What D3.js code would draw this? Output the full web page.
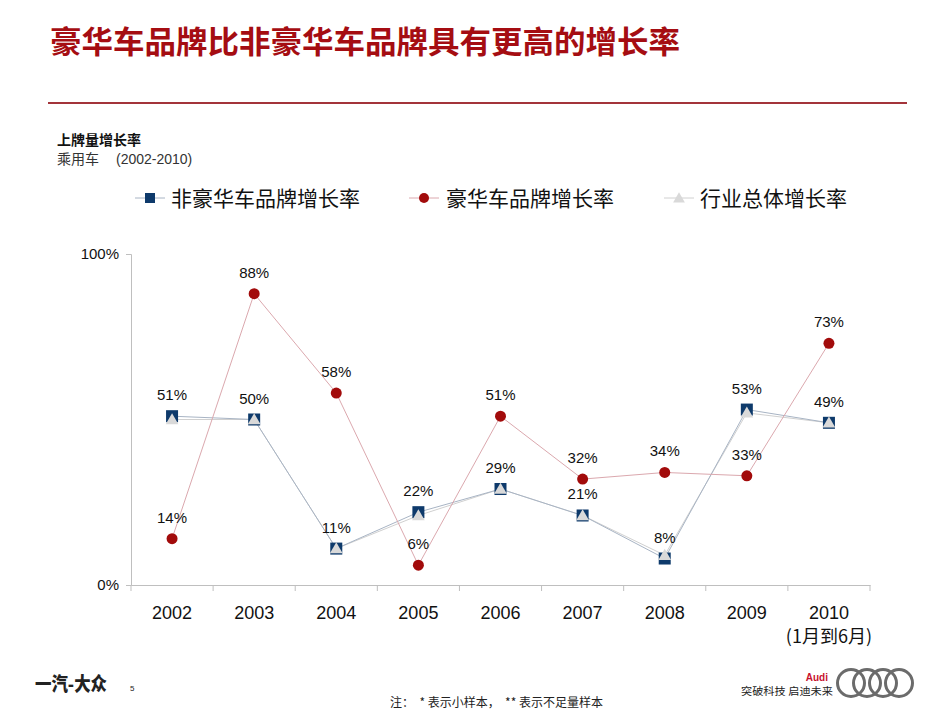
<!DOCTYPE html>
<html><head><meta charset="utf-8">
<script src="https://cdn.jsdelivr.net/npm/d3@7"></script>
<style>
html,body{margin:0;padding:0;background:#fff;}
svg{display:block;font-family:"Liberation Sans","Noto Sans CJK SC",sans-serif;}
</style></head>
<body>
<svg id="chart" width="950" height="713"></svg>
<script>
const categories = ["2002","2003","2004","2005","2006","2007","2008","2009","2010"];
const nonLuxury = [51,50,11,22,29,21,8,53,49];
const luxury = [14,88,58,6,51,32,34,33,73];
const industry = [50,50,11,21,29,21,9,52,49];
const seriesNames = ["非豪华车品牌增长率","豪华车品牌增长率","行业总体增长率"];
const yTicks = [0,100];

const svg = d3.select("#chart");
const cjk = '"Noto Sans CJK SC", sans-serif';

// Title
svg.append("text").attr("x",50).attr("y",53)
  .attr("font-family",cjk).attr("font-weight","bold").attr("font-size",31)
  .attr("fill","#a50d12").attr("textLength",630).attr("lengthAdjust","spacingAndGlyphs")
  .text("豪华车品牌比非豪华车品牌具有更高的增长率");
svg.append("line").attr("x1",48).attr("x2",907).attr("y1",103).attr("y2",103)
  .attr("stroke","#a3343a").attr("stroke-width",2);

svg.append("text").attr("x",57).attr("y",145).attr("font-family",cjk)
  .attr("font-weight","bold").attr("font-size",14).attr("fill","#111").text("上牌量增长率");
svg.append("text").attr("x",57).attr("y",164).attr("font-size",14).attr("fill","#333")
  .attr("font-family",cjk).text("乘用车");
svg.append("text").attr("x",116).attr("y",164).attr("font-size",14).attr("fill","#333")
  .text("(2002-2010)");

// scales
const x = d3.scaleBand().domain(categories).range([131,870]);
const y = d3.scaleLinear().domain([0,100]).range([585,254]);
const cx = d => x(d) + x.bandwidth()/2;

// axes
const gx = svg.append("g").attr("transform","translate(0,585)")
  .call(d3.axisBottom(x).tickSize(0).tickFormat(""));
gx.select(".domain").attr("stroke","#bfbfbf");
const bounds = categories.map(c=>x(c)).concat([870]);
gx.selectAll(".bt").data(bounds).enter().append("line")
  .attr("x1",d=>d).attr("x2",d=>d).attr("y1",0).attr("y2",6).attr("stroke","#bfbfbf");
gx.selectAll(".lbl").data(categories).enter().append("text")
  .attr("x",d=>cx(d)).attr("y",34).attr("text-anchor","middle")
  .attr("font-size",18).attr("fill","#111").text(d=>d);
svg.append("text").attr("x",cx("2010")).attr("y",643).attr("text-anchor","middle")
  .attr("font-size",18).attr("fill","#111").attr("font-family",cjk).text("(1月到6月)");

const gy = svg.append("g").attr("transform","translate(131,0)")
  .call(d3.axisLeft(y).tickValues(yTicks).tickSize(5).tickFormat(d=>d+"%"));
gy.select(".domain").attr("stroke","#bfbfbf");
gy.selectAll(".tick line").attr("stroke","#bfbfbf");
gy.selectAll(".tick text").attr("font-size",15).attr("fill","#111")
  .attr("font-family",'"Liberation Sans",sans-serif').attr("x",-12);

// lines
const line = vals => d3.line().x((d,i)=>cx(categories[i])).y(d=>y(d))(vals);
svg.append("path").attr("d",line(industry)).attr("fill","none").attr("stroke","#d0d0d0").attr("stroke-width",1);
svg.append("path").attr("d",line(nonLuxury)).attr("fill","none").attr("stroke","#a8b4c4").attr("stroke-width",1);
svg.append("path").attr("d",line(luxury)).attr("fill","none").attr("stroke","#dba8ae").attr("stroke-width",1);

// markers
const sq = 12;
svg.selectAll(".sq").data(nonLuxury).enter().append("rect")
  .attr("x",(d,i)=>cx(categories[i])-sq/2).attr("y",d=>y(d)-sq/2)
  .attr("width",sq).attr("height",sq).attr("fill","#0e3a6b");
const tri = d3.symbol().type(d3.symbolTriangle).size(70);
svg.selectAll(".tri").data(industry).enter().append("path")
  .attr("d",tri).attr("transform",(d,i)=>`translate(${cx(categories[i])},${y(d)+1})`)
  .attr("fill","#d9d9d9");
svg.selectAll(".ci").data(luxury).enter().append("circle")
  .attr("cx",(d,i)=>cx(categories[i])).attr("cy",d=>y(d)).attr("r",5.5).attr("fill","#a20b0b");

// data labels
const lbl = (vals) => svg.selectAll(null).data(vals).enter().append("text")
  .attr("x",(d,i)=>cx(categories[i])).attr("y",d=>y(d)-16).attr("text-anchor","middle")
  .attr("font-size",15).attr("fill","#111").text(d=>d+"%");
lbl(nonLuxury);
lbl(luxury);

// legend
const legend = [
  {name:seriesNames[0], mx:150, tx:171, type:"sq"},
  {name:seriesNames[1], mx:424, tx:446, type:"ci"},
  {name:seriesNames[2], mx:679, tx:700, type:"tri"}
];
legend.forEach(l=>{
  const g = svg.append("g");
  g.append("line").attr("x1",l.mx-15).attr("x2",l.mx+15).attr("y1",198).attr("y2",198)
    .attr("stroke", l.type==="sq"?"#a8b4c4":l.type==="ci"?"#dba8ae":"#d0d0d0");
  if(l.type==="sq") g.append("rect").attr("x",l.mx-5).attr("y",193).attr("width",10).attr("height",10).attr("fill","#0e3a6b");
  if(l.type==="ci") g.append("circle").attr("cx",l.mx).attr("cy",198).attr("r",5).attr("fill","#a20b0b");
  if(l.type==="tri") g.append("path").attr("d",d3.symbol().type(d3.symbolTriangle).size(60)).attr("transform",`translate(${l.mx},199)`).attr("fill","#d9d9d9");
  g.append("text").attr("x",l.tx).attr("y",206).attr("font-family",cjk).attr("font-size",21)
    .attr("fill","#111").text(l.name);
});

// footer
svg.append("text").attr("x",35).attr("y",691).attr("font-family",cjk).attr("font-weight","900")
  .attr("font-size",19).attr("fill","#222").attr("textLength",72).attr("lengthAdjust","spacingAndGlyphs").text("一汽-大众");
svg.append("text").attr("x",130).attr("y",691).attr("font-size",8).attr("fill","#222").text("5");
svg.append("text").attr("x",390).attr("y",707).attr("font-family",cjk).attr("font-size",12)
  .attr("fill","#222").attr("xml:space","preserve").text("注：  * 表示小样本，  ** 表示不足量样本");
svg.append("text").attr("x",828).attr("y",681).attr("text-anchor","end").attr("font-weight","bold")
  .attr("font-size",10).attr("fill","#c8102e").text("Audi");
svg.append("text").attr("x",741).attr("y",695).attr("font-family",cjk).attr("font-size",10)
  .attr("fill","#222").attr("xml:space","preserve").attr("textLength",92).attr("lengthAdjust","spacingAndGlyphs").text("突破科技 启迪未来");
[851,867,883,899].forEach(c=>{
  svg.append("circle").attr("cx",c).attr("cy",683).attr("r",13.5).attr("fill","none")
    .attr("stroke","#6b6b6b").attr("stroke-width",3);
});
</script>
</body></html>
